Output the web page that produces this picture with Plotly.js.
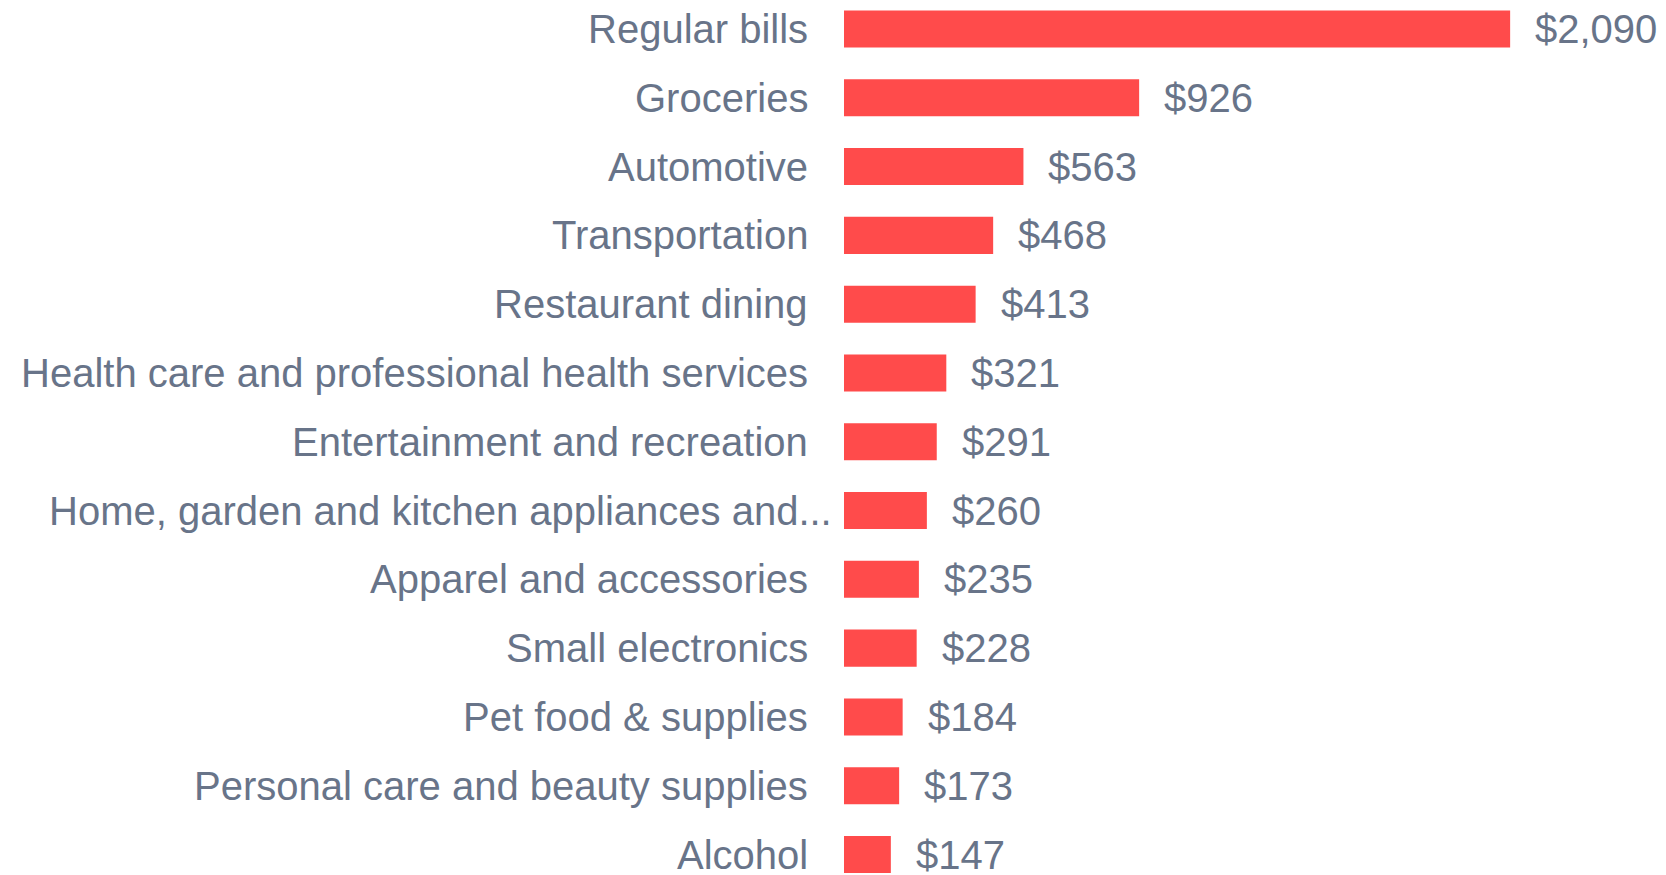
<!DOCTYPE html>
<html>
<head>
<meta charset="utf-8">
<script src="https://cdn.plot.ly/plotly-3.0.1.min.js"></script>
<style>html,body{margin:0;padding:0;background:#fff;}#chart{width:1666px;height:875px;}</style>
</head>
<body>
<div id="chart"></div>
<script>
const categories = [
  "Regular bills",
  "Groceries",
  "Automotive",
  "Transportation",
  "Restaurant dining",
  "Health care and professional health services",
  "Entertainment and recreation",
  "Home, garden and kitchen appliances and...",
  "Apparel and accessories",
  "Small electronics",
  "Pet food & supplies",
  "Personal care and beauty supplies",
  "Alcohol"
];
const values = [2090, 926, 563, 468, 413, 321, 291, 260, 235, 228, 184, 173, 147];
const valueLabels = values.map(v => "$" + v.toLocaleString("en-US"));

const FONT = "Liberation Sans, Arial, sans-serif";
const TEXT_COLOR = "#687489";
const FSIZE = 40;

const annotations = [];
categories.forEach((c, i) => {
  annotations.push({
    x: 0, y: c, xref: "x", yref: "y",
    text: c, showarrow: false,
    xanchor: "right", yanchor: "middle",
    xshift: c.endsWith("...") ? -10 : -34,
    yshift: 0,
    font: {family: FONT, size: FSIZE, color: TEXT_COLOR}
  });
  annotations.push({
    x: values[i], y: c, xref: "x", yref: "y",
    text: valueLabels[i], showarrow: false,
    xanchor: "left", yanchor: "middle",
    xshift: 23,
    yshift: 0,
    font: {family: FONT, size: FSIZE, color: TEXT_COLOR}
  });
});

const trace = {
  type: "bar",
  orientation: "h",
  x: values,
  y: categories,
  marker: {color: "#FF4B4B"},
  hoverinfo: "none"
};

const layout = {
  width: 1666, height: 875,
  margin: {l: 844, r: 0, t: 0, b: 0, pad: 0},
  paper_bgcolor: "#ffffff",
  plot_bgcolor: "#ffffff",
  showlegend: false,
  bargap: 0.462,
  xaxis: {range: [0, 2579], visible: false, showgrid: false, zeroline: false, fixedrange: true},
  yaxis: {
    type: "category",
    range: [12.298, -0.4216],
    showticklabels: false, showgrid: false, zeroline: false, showline: false, ticks: "",
    fixedrange: true
  },
  annotations: annotations
};

Plotly.newPlot("chart", [trace], layout, {displayModeBar: false, staticPlot: true});
</script>
</body>
</html>
